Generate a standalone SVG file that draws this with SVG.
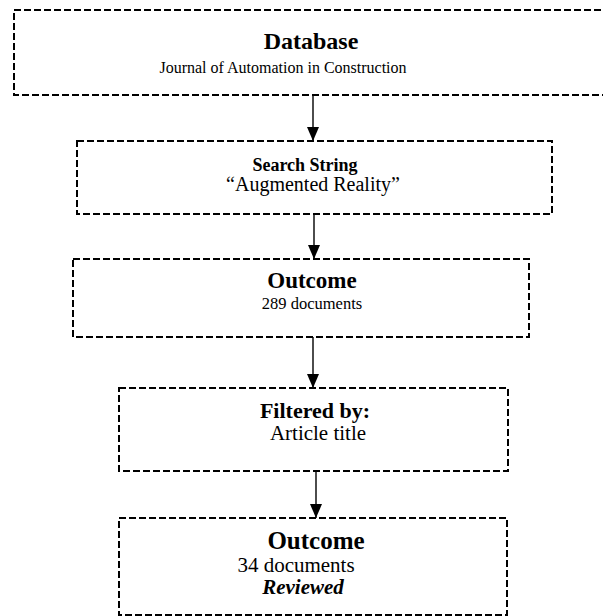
<svg xmlns="http://www.w3.org/2000/svg" width="603" height="616" viewBox="0 0 603 616">
  <style>
    .box { fill: #ffffff; stroke: #000000; stroke-width: 2; stroke-dasharray: 7 3; }
    .link { stroke: #000000; stroke-width: 1.4; fill: none; }
    .t { font-family: "Liberation Serif", "Times New Roman", serif; fill: #000000; text-anchor: middle; }
    .b { font-weight: bold; }
    .bi { font-weight: bold; font-style: italic; }
  </style>
  <defs>
    <marker id="head" viewBox="0 0 14 12" refX="14" refY="6" markerWidth="14" markerHeight="12" markerUnits="userSpaceOnUse" orient="auto">
      <path d="M0,0 L14,6 L0,12 Z" fill="#000000"/>
    </marker>
  </defs>
  <rect width="603" height="616" fill="#ffffff"/>

  <g id="connectors">
    <line class="link" x1="313" y1="95" x2="313" y2="141" marker-end="url(#head)"/>
    <line class="link" x1="314" y1="214" x2="314" y2="259" marker-end="url(#head)"/>
    <line class="link" x1="313" y1="337" x2="313" y2="388" marker-end="url(#head)"/>
    <line class="link" x1="316" y1="471" x2="316" y2="518" marker-end="url(#head)"/>
  </g>

  <g id="database">
    <rect class="box" x="14" y="10" width="600" height="85"/>
    <text class="t b" x="311" y="49" font-size="24">Database</text>
    <text class="t" x="283" y="73" font-size="16">Journal of Automation in Construction</text>
  </g>

  <g id="search-string">
    <rect class="box" x="77" y="141" width="475" height="73"/>
    <text class="t b" x="305" y="171" font-size="18">Search String</text>
    <text class="t" x="313" y="191" font-size="20">“Augmented Reality”</text>
  </g>

  <g id="outcome-289">
    <rect class="box" x="73" y="259" width="456" height="78"/>
    <text class="t b" x="312" y="288" font-size="23">Outcome</text>
    <text class="t" x="312" y="309" font-size="16.5">289 documents</text>
  </g>

  <g id="filtered-by">
    <rect class="box" x="119" y="388" width="389" height="83"/>
    <text class="t b" x="315" y="418" font-size="22">Filtered by:</text>
    <text class="t" x="318" y="440" font-size="21">Article title</text>
  </g>

  <g id="outcome-34">
    <rect class="box" x="119" y="518" width="388" height="97"/>
    <text class="t b" x="316" y="549" font-size="25">Outcome</text>
    <text class="t" x="296" y="572" font-size="21">34 documents</text>
    <text class="t bi" x="303" y="594" font-size="21">Reviewed</text>
  </g>
</svg>
